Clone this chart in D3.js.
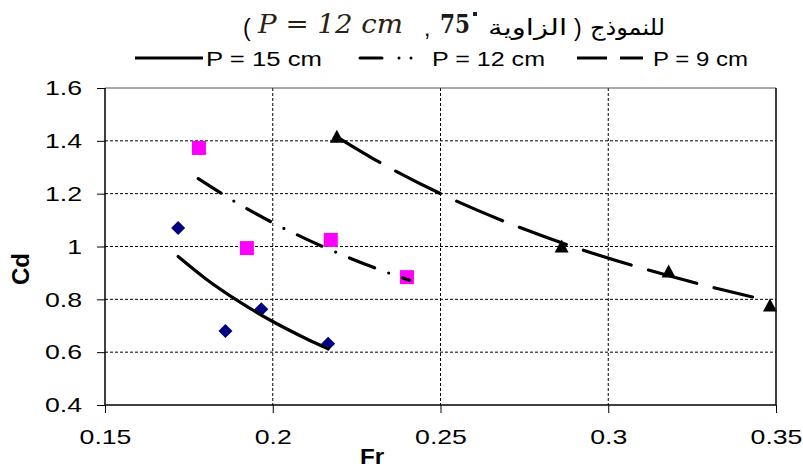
<!DOCTYPE html>
<html>
<head>
<meta charset="utf-8">
<script src="https://cdn.jsdelivr.net/npm/d3@7"></script>
<style>
  html, body { margin: 0; padding: 0; background: #fff; }
  svg { display: block; }
</style>
</head>
<body>
<svg id="chart" width="803" height="469" font-family="Liberation Sans, Arial, sans-serif"></svg>
<script>
// ---- data ----
const xTicks = [0.15, 0.2, 0.25, 0.3, 0.35];
const yTicks = [0.4, 0.6, 0.8, 1.0, 1.2, 1.4, 1.6];
const xTickLabels = ["0.15", "0.2", "0.25", "0.3", "0.35"];
const yTickLabels = ["0.4", "0.6", "0.8", "1", "1.2", "1.4", "1.6"];

// measured points
const p15Fr = [0.1718, 0.1859, 0.1966, 0.2165];
const p15Cd = [1.07, 0.68, 0.762, 0.632];
const p12Fr = [0.178, 0.1923, 0.2173, 0.240];
const p12Cd = [1.373, 0.994, 1.025, 0.884];
const p9Fr  = [0.2191, 0.2861, 0.318, 0.3482];
const p9Cd  = [1.415, 1.0, 0.905, 0.777];

// trend curves
const t15Fr = [0.1718, 0.18, 0.19, 0.20, 0.21, 0.2165];
const t15Cd = [0.962, 0.878, 0.791, 0.716, 0.651, 0.613];
const t12Fr = [0.1778, 0.19, 0.20, 0.21, 0.22, 0.23, 0.2408];
const t12Cd = [1.257, 1.160, 1.090, 1.028, 0.972, 0.921, 0.872];
const t9Fr  = [0.2191, 0.23, 0.25, 0.27, 0.29, 0.31, 0.33, 0.343];
const t9Cd  = [1.415, 1.332, 1.200, 1.090, 0.997, 0.918, 0.849, 0.809];

const legendLabels = ["P = 15 cm", "P = 12 cm", "P = 9 cm"];

// ---- layout ----
const svg = d3.select("#chart");
const X0 = 105, X1 = 776, Y0 = 405, Y1 = 88;
const x = d3.scaleLinear().domain([0.15, 0.35]).range([X0, X1]);
const y = d3.scaleLinear().domain([0.4, 1.6]).range([Y0, Y1]);
const STRETCH = 1.27;

function stretchText(sel, k) {
  sel.each(function () {
    const w = this.getComputedTextLength();
    d3.select(this).attr("textLength", w * k).attr("lengthAdjust", "spacingAndGlyphs");
  });
}

// gridlines
const grid = svg.append("g");
grid.selectAll("line.h").data(yTicks.filter(v => v > 0.4 && v < 1.6)).join("line")
  .attr("x1", X0).attr("x2", X1).attr("y1", d => y(d)).attr("y2", d => y(d))
  .attr("stroke", "#000").attr("stroke-width", 1).attr("stroke-dasharray", "3,2");
grid.selectAll("line.v").data(xTicks.filter(v => v > 0.15 && v < 0.35)).join("line")
  .attr("x1", d => x(d)).attr("x2", d => x(d)).attr("y1", Y1).attr("y2", Y0)
  .attr("stroke", "#000").attr("stroke-width", 1).attr("stroke-dasharray", "3,2");

// plot border (top & right)
svg.append("line").attr("x1", X0).attr("x2", X1).attr("y1", Y1).attr("y2", Y1)
  .attr("stroke", "#555").attr("stroke-width", 1);
svg.append("line").attr("x1", X1).attr("x2", X1).attr("y1", Y1).attr("y2", Y0)
  .attr("stroke", "#000").attr("stroke-width", 1.5);

// axes
const xAxis = svg.append("g").attr("transform", `translate(0,${Y0})`)
  .call(d3.axisBottom(x).tickValues(xTicks).tickFormat((d, i) => xTickLabels[i]).tickSize(8).tickPadding(16));
const yAxis = svg.append("g").attr("transform", `translate(${X0},0)`)
  .call(d3.axisLeft(y).tickValues(yTicks).tickFormat((d, i) => yTickLabels[i]).tickSize(8).tickPadding(15));
[xAxis, yAxis].forEach(a => {
  a.attr("font-family", null).attr("font-size", null);
  a.select(".domain").attr("stroke", "#000").attr("stroke-width", 1.5);
  a.selectAll(".tick line").attr("stroke", "#000").attr("stroke-width", 1);
  a.selectAll(".tick text").attr("font-size", 21).attr("fill", "#000");
});
xAxis.selectAll(".domain").attr("d", `M${X0},0H${X1}`);
yAxis.selectAll(".domain").attr("d", `M0,${Y1}V${Y0}`);
xAxis.selectAll(".tick text").attr("dy", "0.71em");
stretchText(xAxis.selectAll(".tick text"), STRETCH);
stretchText(yAxis.selectAll(".tick text"), STRETCH);

// axis titles
svg.append("text").attr("x", 372).attr("y", 464).attr("text-anchor", "middle")
  .attr("font-size", 22).attr("font-weight", "bold").text("Fr")
  .call(s => stretchText(s, 1.1));
svg.append("text").attr("transform", "translate(29,269) rotate(-90)").attr("text-anchor", "middle")
  .attr("font-size", 24).attr("font-weight", "bold").text("Cd");

// markers
const mk = svg.append("g");
const diamond = "M0,-7L7,0L0,7L-7,0Z";
mk.selectAll("path.dia").data(p15Fr).join("path")
  .attr("d", diamond)
  .attr("transform", (d, i) => `translate(${x(d)},${y(p15Cd[i])})`)
  .attr("fill", "#000080");
mk.selectAll("rect.sq").data(p12Fr).join("rect")
  .attr("x", d => x(d) - 7).attr("y", (d, i) => y(p12Cd[i]) - 7)
  .attr("width", 14).attr("height", 14).attr("fill", "#FF00FF");
const tri = "M0,-7L7,6L-7,6Z";
mk.selectAll("path.tri").data(p9Fr).join("path")
  .attr("d", tri)
  .attr("transform", (d, i) => `translate(${x(d)},${y(p9Cd[i])})`)
  .attr("fill", "#000");

// trend lines
const line = d3.line().curve(d3.curveMonotoneX);
function drawTrend(fr, cd, dash) {
  svg.append("path").datum(fr.map((v, i) => [x(v), y(cd[i])]))
    .attr("d", line).attr("fill", "none").attr("stroke", "#000")
    .attr("stroke-width", 3.2).attr("stroke-linecap", "round")
    .attr("stroke-dasharray", dash);
}
drawTrend(t15Fr, t15Cd, null);
drawTrend(t12Fr, t12Cd, "27,15,0,15");
drawTrend(t9Fr, t9Cd, "50,18");

// legend
const LY = 58;
const lg = svg.append("g");
lg.append("line").attr("x1", 135).attr("x2", 203).attr("y1", LY).attr("y2", LY)
  .attr("stroke", "#000").attr("stroke-width", 3);
lg.append("path").attr("d", `M360,${LY}H420`).attr("stroke", "#000").attr("stroke-width", 3)
  .attr("stroke-linecap", "round").attr("stroke-dasharray", "22,17,0,12,0,100");
lg.append("path").attr("d", `M577,${LY}H643`).attr("stroke", "#000").attr("stroke-width", 3)
  .attr("stroke-dasharray", "30,13,23,100");
const legX = [206, 432, 653];
const legW = [116, 113, 95];
legendLabels.forEach((t, i) => {
  lg.append("text").attr("x", legX[i]).attr("y", LY + 8).attr("font-size", 20)
    .attr("textLength", legW[i]).attr("lengthAdjust", "spacingAndGlyphs").text(t);
});

// title (pieces placed in visual order)
const TY = 33;
const tg = svg.append("g");
const ltr = s => s.style("direction", "ltr").style("unicode-bidi", "bidi-override");
tg.append("text").attr("x", 243).attr("y", TY + 3).attr("font-size", 23).call(ltr).text("(");
tg.append("text").attr("x", 258).attr("y", TY).attr("font-size", 26)
  .attr("font-family", "DejaVu Serif, Liberation Serif, serif").attr("font-style", "italic")
  .attr("fill", "#2b2112").attr("textLength", 145).attr("lengthAdjust", "spacingAndGlyphs")
  .text("P = 12 cm");
tg.append("text").attr("x", 424).attr("y", TY + 3).attr("font-size", 23).text(",");
tg.append("text").attr("x", 440).attr("y", TY).attr("font-size", 26).attr("font-weight", "bold")
  .attr("font-family", "DejaVu Serif, Liberation Serif, serif").attr("fill", "#1a1a1a")
  .attr("textLength", 30).attr("lengthAdjust", "spacingAndGlyphs").text("75");
tg.append("rect").attr("x", 473).attr("y", 12).attr("width", 4).attr("height", 4).attr("fill", "#1a1a40");
tg.append("text").attr("x", 488).attr("y", TY + 2).attr("font-size", 22)
  .attr("font-family", "DejaVu Sans, sans-serif")
  .attr("textLength", 79).attr("lengthAdjust", "spacingAndGlyphs").text("الزاوية");
tg.append("text").attr("x", 574).attr("y", TY + 3).attr("font-size", 23).call(ltr).text(")");
tg.append("text").attr("x", 590).attr("y", TY + 2).attr("font-size", 22)
  .attr("font-family", "DejaVu Sans, sans-serif")
  .attr("textLength", 75).attr("lengthAdjust", "spacingAndGlyphs").text("للنموذج");
</script>
</body>
</html>
